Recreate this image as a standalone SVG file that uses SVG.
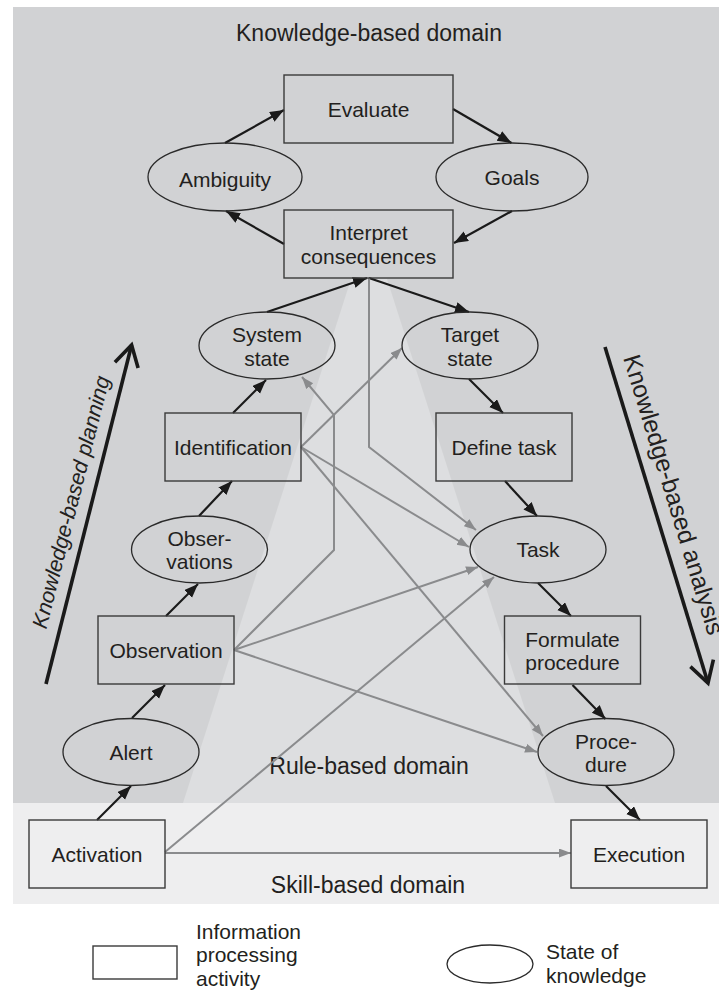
<svg xmlns="http://www.w3.org/2000/svg" width="719" height="991" viewBox="0 0 719 991">
  <defs>
    <style>
      text { font-family: "Liberation Sans", Arial, sans-serif; fill: #231f20; }
      .lbl { font-size: 21px; text-anchor: middle; }
      .dom { font-size: 23px; text-anchor: middle; }
      .leg { font-size: 21px; }
      .box { fill: none; stroke: #3a3a3a; stroke-width: 1.4; }
      .oval { fill: none; stroke: #2a2a2a; stroke-width: 1.3; }
      .blk { fill: none; stroke: #1a1a1a; stroke-width: 2.2; marker-end: url(#headBlack); }
      .gry { fill: none; stroke: #8a8b8d; stroke-width: 2; marker-end: url(#headGrey); }
      .big { fill: none; stroke: #1a1a1a; stroke-width: 3.6; stroke-linecap: butt; stroke-linejoin: miter; }
    </style>
    <marker id="headBlack" markerUnits="userSpaceOnUse" markerWidth="15" markerHeight="12" refX="14" refY="5.5" orient="auto">
      <path d="M0,0 L14,5.5 L0,11 z" fill="#1a1a1a"/>
    </marker>
    <marker id="headGrey" markerUnits="userSpaceOnUse" markerWidth="13" markerHeight="10" refX="12" refY="4.5" orient="auto">
      <path d="M0,0 L12,4.5 L0,9 z" fill="#8a8b8d"/>
    </marker>
  </defs>

  <!-- background domains -->
  <g id="domains">
    <rect x="13" y="7" width="706" height="796" fill="#d1d2d4"/>
    <polygon points="183,803 555,803 387,279 351,279" fill="#dddee0"/>
    <rect x="13" y="803" width="706" height="101" fill="#eeeeef"/>
    <text class="dom" x="369" y="40.5">Knowledge-based domain</text>
    <text class="dom" x="369" y="774">Rule-based domain</text>
    <text class="dom" x="368" y="892.5">Skill-based domain</text>
  </g>

  <!-- planning / analysis direction arrows -->
  <g id="planning">
    <path class="big" d="M46,684 L131.6,345"/>
    <path class="big" d="M114.9,362.2 L131.6,345 L138.1,368.1"/>
    <text x="78" y="504" font-size="21.5" font-style="italic" text-anchor="middle" transform="rotate(-75.8 78 504)">Knowledge-based planning</text>
  </g>
  <g id="analysis">
    <path class="big" d="M605,347 L708,683"/>
    <path class="big" d="M690.4,666.6 L708,683 L713.4,659.6"/>
    <text x="665.7" y="497.2" font-size="24.5" text-anchor="middle" transform="rotate(72.96 665.7 497.2)">Knowledge-based analysis</text>
  </g>

  <!-- connectors -->
  <g id="connectors">
    <!-- knowledge cycle -->
    <path class="blk" d="M225,143 L284,110"/>
    <path class="blk" d="M453,109 L511.5,143"/>
    <path class="blk" d="M512,211 L454,243"/>
    <path class="blk" d="M284,244 L226,211"/>
    <!-- left ascending chain -->
    <path class="blk" d="M267,312 L367,278"/>
    <path class="blk" d="M233,413 L266,380"/>
    <path class="blk" d="M199,516 L232,481"/>
    <path class="blk" d="M166,616 L198,584"/>
    <path class="blk" d="M132,718 L165,685"/>
    <path class="blk" d="M97,820 L131,786"/>
    <!-- right descending chain -->
    <path class="blk" d="M369,278 L469,312"/>
    <path class="blk" d="M469,379 L503,413"/>
    <path class="blk" d="M505,481 L537,516"/>
    <path class="blk" d="M538,583 L571,616"/>
    <path class="blk" d="M572.5,685 L605.5,719"/>
    <path class="blk" d="M606,786 L640,820"/>
    <!-- rule-based shortcuts -->
    <path class="gry" d="M369,278 L369,447 L476,530"/>
    <path class="gry" d="M234,650 L334,550 L334,415 L302,377"/>
    <path class="gry" d="M234,650 L478,567"/>
    <path class="gry" d="M234,650 L537,752"/>
    <path class="gry" d="M301,447 L402,348"/>
    <path class="gry" d="M301,447 L469,547"/>
    <path class="gry" d="M301,447 L543,736"/>
    <path class="gry" d="M165,852 L494,577"/>
    <path class="gry" d="M165,853 L571,853"/>
  </g>

  <!-- knowledge-based nodes -->
  <g id="evaluate">
    <rect class="box" x="284" y="75" width="169" height="68"/>
    <text class="lbl" x="368.5" y="117">Evaluate</text>
  </g>
  <g id="ambiguity">
    <ellipse class="oval" cx="225" cy="177" rx="77" ry="34"/>
    <text class="lbl" x="225" y="187">Ambiguity</text>
  </g>
  <g id="goals">
    <ellipse class="oval" cx="512" cy="177" rx="76" ry="34"/>
    <text class="lbl" x="512" y="185">Goals</text>
  </g>
  <g id="interpret">
    <rect class="box" x="284" y="210" width="169" height="68"/>
    <text class="lbl" x="368.5" y="240">Interpret</text>
    <text class="lbl" x="368.5" y="264">consequences</text>
  </g>

  <!-- left column -->
  <g id="system-state">
    <ellipse class="oval" cx="267" cy="345.5" rx="68" ry="33.5"/>
    <text class="lbl" x="267" y="342">System</text>
    <text class="lbl" x="267" y="366">state</text>
  </g>
  <g id="identification">
    <rect class="box" x="165" y="413" width="136" height="68"/>
    <text class="lbl" x="233" y="455">Identification</text>
  </g>
  <g id="observations">
    <ellipse class="oval" cx="199.5" cy="549.5" rx="68" ry="33.5"/>
    <text class="lbl" x="199.5" y="545.5">Obser-</text>
    <text class="lbl" x="199.5" y="568.5">vations</text>
  </g>
  <g id="observation">
    <rect class="box" x="98" y="616" width="136" height="68"/>
    <text class="lbl" x="166" y="658">Observation</text>
  </g>
  <g id="alert">
    <ellipse class="oval" cx="131" cy="752" rx="68" ry="33.5"/>
    <text class="lbl" x="131" y="760">Alert</text>
  </g>
  <g id="activation">
    <rect class="box" x="29" y="820" width="136" height="68"/>
    <text class="lbl" x="97" y="861.5">Activation</text>
  </g>

  <!-- right column -->
  <g id="target-state">
    <ellipse class="oval" cx="470" cy="345.5" rx="68" ry="33.5"/>
    <text class="lbl" x="470" y="342">Target</text>
    <text class="lbl" x="470" y="366">state</text>
  </g>
  <g id="define-task">
    <rect class="box" x="436" y="413" width="136" height="68"/>
    <text class="lbl" x="504" y="455">Define task</text>
  </g>
  <g id="task">
    <ellipse class="oval" cx="538" cy="549.5" rx="68" ry="33.5"/>
    <text class="lbl" x="538" y="557">Task</text>
  </g>
  <g id="formulate-procedure">
    <rect class="box" x="504.5" y="616" width="136" height="68"/>
    <text class="lbl" x="572.5" y="646.5">Formulate</text>
    <text class="lbl" x="572.5" y="670">procedure</text>
  </g>
  <g id="procedure">
    <ellipse class="oval" cx="606" cy="752" rx="68" ry="33.5"/>
    <text class="lbl" x="606" y="749">Proce-</text>
    <text class="lbl" x="606" y="772">dure</text>
  </g>
  <g id="execution">
    <rect class="box" x="571" y="820" width="136" height="68"/>
    <text class="lbl" x="639" y="861.5">Execution</text>
  </g>

  <!-- legend -->
  <g id="legend">
    <rect class="box" x="93" y="946" width="84" height="33"/>
    <text class="leg" x="196" y="938.5">Information</text>
    <text class="leg" x="196" y="962">processing</text>
    <text class="leg" x="196" y="985.5">activity</text>
    <ellipse class="oval" cx="490" cy="964" rx="43" ry="19"/>
    <text class="leg" x="546" y="959">State of</text>
    <text class="leg" x="546" y="983">knowledge</text>
  </g>
</svg>
